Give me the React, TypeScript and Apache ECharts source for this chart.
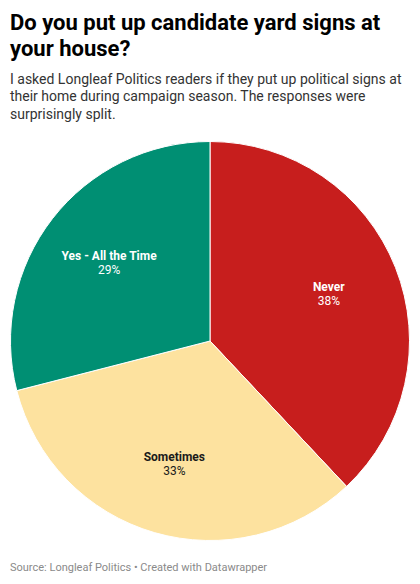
import React, { useEffect, useRef } from "react";
import * as echarts from "echarts";

const categories = ["Never", "Sometimes", "Yes - All the Time"];
const values = [38, 33, 29];
const colors = ["#c71e1d", "#fde29f", "#008f73"];
const labelColors = ["#ffffff", "#1a1a1a", "#ffffff"];

const titleText = "Do you put up candidate yard signs at\nyour house?";
const subtitleText =
  "I asked Longleaf Politics readers if they put up political signs at\ntheir home during campaign season. The responses were\nsurprisingly split.";
const footerText = "Source: Longleaf Politics • Created with Datawrapper";

const FONT = "Roboto, 'Noto Sans', sans-serif";

export default function App() {
  const ref = useRef<HTMLDivElement>(null);
  useEffect(() => {
    document.body.style.margin = "0";
    const chart = echarts.init(ref.current!, null, { renderer: "svg" });
    const pieData = categories.map((name, i) => ({
      name,
      value: values[i],
      itemStyle: { color: colors[i] },
    }));
    const labelData = categories.map((name, i) => ({
      name,
      value: values[i],
      label: {
        color: labelColors[i],
        rich: {
          n: { fontFamily: FONT, fontSize: 12, fontWeight: "bold", color: labelColors[i], lineHeight: 14 },
          p: { fontFamily: FONT, fontSize: 12, color: labelColors[i], lineHeight: 14 },
        },
      },
    }));
    chart.setOption({
      animation: false,
      backgroundColor: "#ffffff",
      title: [
        {
          text: titleText,
          left: 10,
          top: 9,
          padding: 0,
          textStyle: { fontFamily: FONT, fontSize: 22, fontWeight: "bold", color: "#000000", lineHeight: 26 },
        },
        {
          text: subtitleText,
          left: 10,
          top: 70,
          padding: 0,
          textStyle: { fontFamily: FONT, fontSize: 14, fontWeight: "normal", color: "#333333", lineHeight: 17.5 },
        },
        {
          text: footerText,
          left: 10,
          top: 560,
          padding: 0,
          textStyle: { fontFamily: FONT, fontSize: 11, fontWeight: "normal", color: "#8a8a8a", lineHeight: 14 },
        },
      ],
      series: [
        {
          type: "pie",
          center: [210, 341],
          radius: [0, 199.5],
          startAngle: 90,
          clockwise: true,
          silent: true,
          data: pieData,
          itemStyle: { borderColor: "#ffffff", borderWidth: 1 },
          label: { show: false },
          labelLine: { show: false },
        },
        {
          type: "pie",
          center: [210, 341],
          radius: [50, 199.5],
          startAngle: 90,
          clockwise: true,
          silent: true,
          data: labelData,
          itemStyle: { color: "rgba(0,0,0,0)", borderWidth: 0 },
          label: {
            show: true,
            position: "inside",
            formatter: "{n|{b}}\n{p|{c}%}",
          },
          labelLine: { show: false },
        },
      ],
    });
    return () => chart.dispose();
  }, []);
  return <div ref={ref} style={{ width: 420, height: 584 }} />;
}
